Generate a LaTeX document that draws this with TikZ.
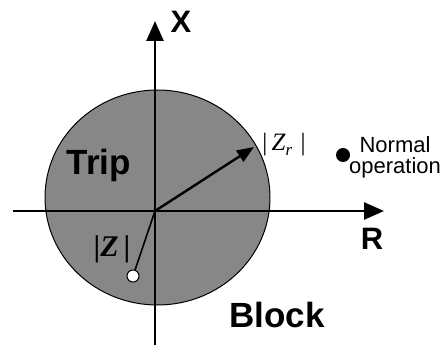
\documentclass[tikz,border=0pt]{standalone}
\usepackage{fontspec}
\setmainfont{Liberation Sans}
\newfontfamily\serifZ{Liberation Serif}
\usetikzlibrary{arrows.meta}
\begin{document}
\begin{tikzpicture}[x=1pt,y=-1pt,
  axis/.style={line width=2.6pt,-{Triangle[length=20pt,width=17pt]}},
  big/.style={font=\fontsize{35}{35}\selectfont\bfseries,inner sep=0pt},
  axlbl/.style={font=\fontsize{31}{31}\selectfont\bfseries,inner sep=0pt},
  small/.style={font=\fontsize{22}{22}\selectfont,inner sep=0pt},
  zlbl/.style={font=\fontsize{25}{25}\selectfont\serifZ,inner sep=0pt}]
\useasboundingbox (0,0) rectangle (446,350);
\coordinate (O) at (155,211);
\coordinate (C) at (157.5,197.5);
\fill[black!47] (C) ellipse [x radius=112.5, y radius=107.5];
\draw[line width=1pt] (C) ellipse [x radius=112.5, y radius=107.5];
\coordinate (xl) at (13,211);
\coordinate (xr) at (384,211);
\coordinate (yb) at (155,345);
\coordinate (yt) at (155,21);
\draw[axis] (xl) -- (xr);
\draw[axis] (yb) -- (yt);
\coordinate (zr) at (254,147);
\draw[line width=2.4pt,-{Triangle[length=17pt,width=13pt]}] (O) -- (zr);
\node[circle,draw,fill=white,line width=1pt,minimum size=12pt,inner sep=0pt] (z) at (133,276) {};
\draw[line width=1.6pt] (O) -- (z);
\node[circle,fill=black,minimum size=14pt,inner sep=0pt] (dot) at (343,155) {};
\node[big] (trip) at (99,165) {Trip};
\node[big] (block) at (277,315) {Block};
\node[axlbl] (X) at (181,22) {X};
\node[axlbl] (R) at (372,239) {R};
\node[small] (norm) at (395,145) {Normal};
\node[small] (oper) at (395,168) {operation};
\node[zlbl] (lzr) at (284,145) {|\,\textit{Z}\raisebox{-5pt}{\fontsize{17}{17}\selectfont\textit{r}}\,\,|};
\node[zlbl,font=\fontsize{30}{30}\selectfont\serifZ\bfseries] (lz) at (112,249) {|\textit{Z}\,|};
\end{tikzpicture}
\end{document}
